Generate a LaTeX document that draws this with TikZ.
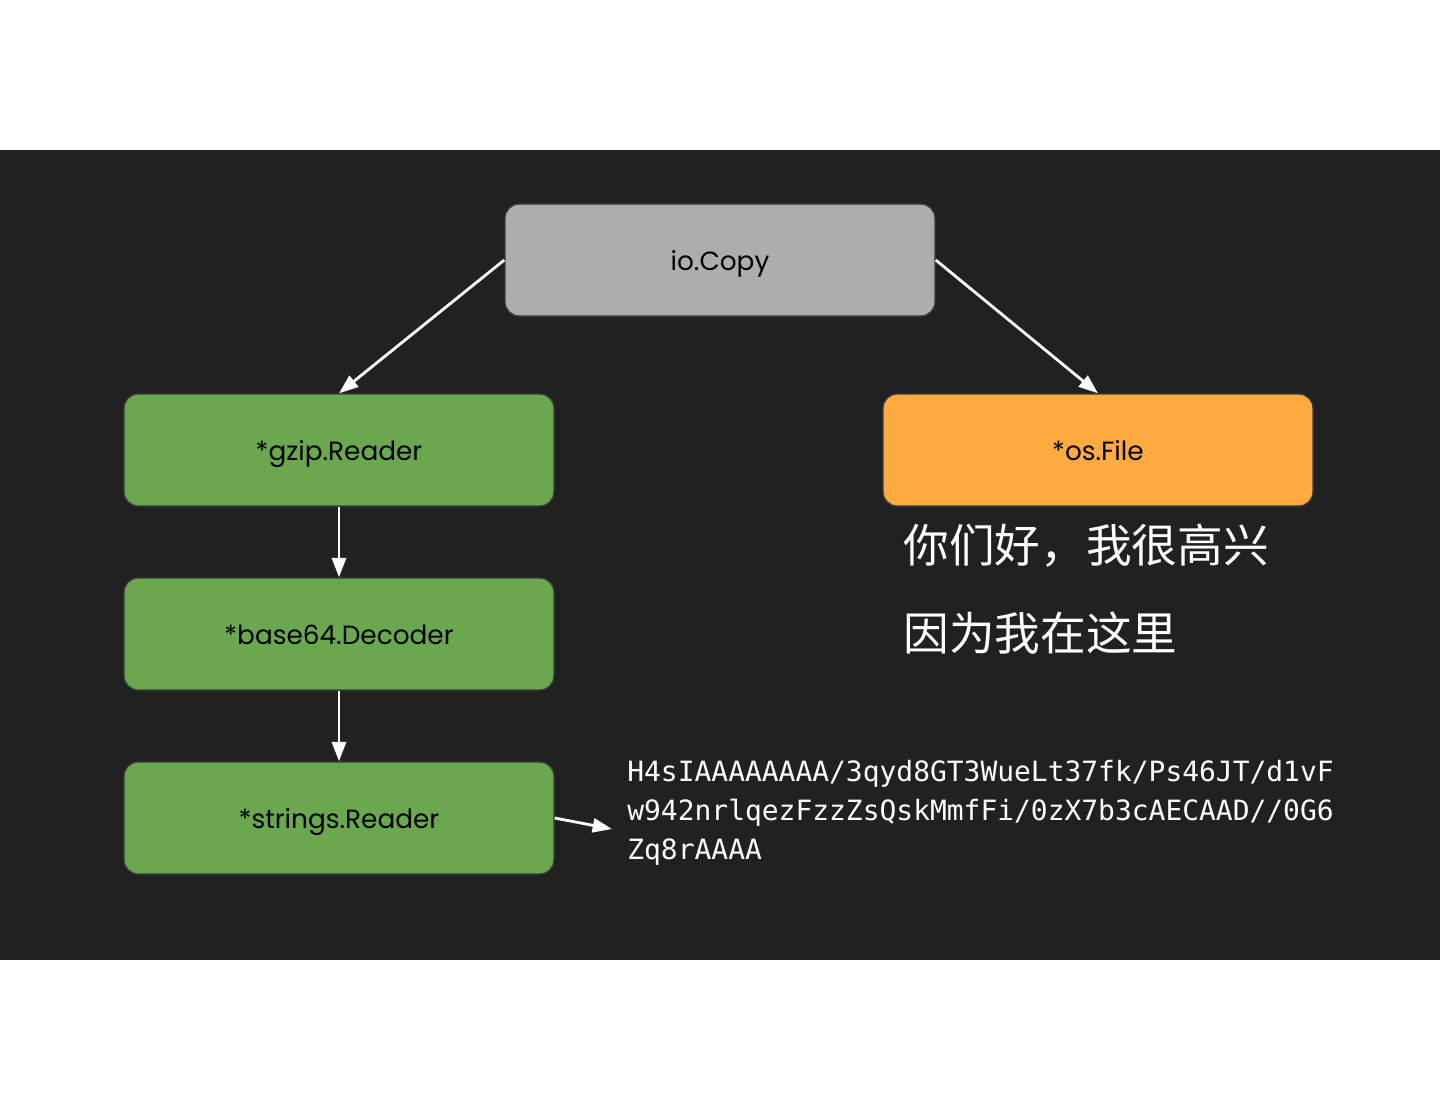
\documentclass[tikz,border=0pt]{standalone}
\usepackage{fontspec}
\setmainfont{Poppins}
\setmonofont{DejaVu Sans Mono}
\newfontfamily\cjk{Noto Sans CJK SC}
\usetikzlibrary{arrows.meta,positioning}
\definecolor{slatebg}{RGB}{33,33,33}
\definecolor{callgray}{RGB}{173,173,173}
\definecolor{readgreen}{RGB}{106,168,79}
\definecolor{fileorange}{RGB}{255,171,64}
\definecolor{edgegray}{RGB}{60,60,60}
\tikzset{
  stage/.style={draw=edgegray, line width=0.8pt, fill=readgreen,
                minimum width=430*0.02cm, minimum height=112*0.02cm,
                rounded corners=8pt, inner sep=4pt, align=center,
                text height=13pt, text depth=0.6pt,
                font=\fontsize{15}{18}\selectfont, text=black},
  stagegray/.style={stage, fill=callgray},
  stageorange/.style={stage, fill=fileorange},
  flow/.style={-{Triangle[length=11pt,width=8pt]}, white, line width=1.6pt},
  dump/.style={font=\ttfamily\fontsize{15.9}{22.2}\selectfont, text=white,
               align=left, inner sep=0pt},
  hanzi/.style={font=\cjk\fontsize{26}{50}\selectfont, text=white,
                align=left, inner sep=0pt},
}
\begin{document}
\begin{tikzpicture}[x=0.02cm,y=-0.02cm]
  \path[use as bounding box] (0,0) rectangle (1440,1113);
  \fill[white] (0,0) rectangle (1440,1113);
  \fill[slatebg] (0,150) rectangle (1440,960);

  \node[stagegray] (copy) at (720,260) {io.Copy};
  \node[stage] (gzip) at (339,450) {*gzip.Reader};
  \node[stage] (b64) at (339,634) {*base64.Decoder};
  \node[stage] (strs) at (339,818) {*strings.Reader};
  \node[stageorange] (file) at (1098,450) {*os.File};

  \node[hanzi, anchor=north west] (greet) at (903,524)
    {你们好，我很高兴\\因为我在这里};
  \node[dump, anchor=north west] (payload) at (627,760)
    {H4sIAAAAAAAA/3qyd8GT3WueLt37fk/Ps46JT/d1vF\\
     w942nrlqezFzzZsQskMmfFi/0zX7b3cAECAAD//0G6\\
     Zq8rAAAA};
  \coordinate (payin) at (612,829);

  \draw[flow] (copy.west) -- (gzip.north);
  \draw[flow] (copy.east) -- (file.north);
  \draw[flow] (gzip.south) -- (b64.north);
  \draw[flow] (b64.south) -- (strs.north);
  \draw[flow] (strs.east) -- (payin);
\end{tikzpicture}
\end{document}
